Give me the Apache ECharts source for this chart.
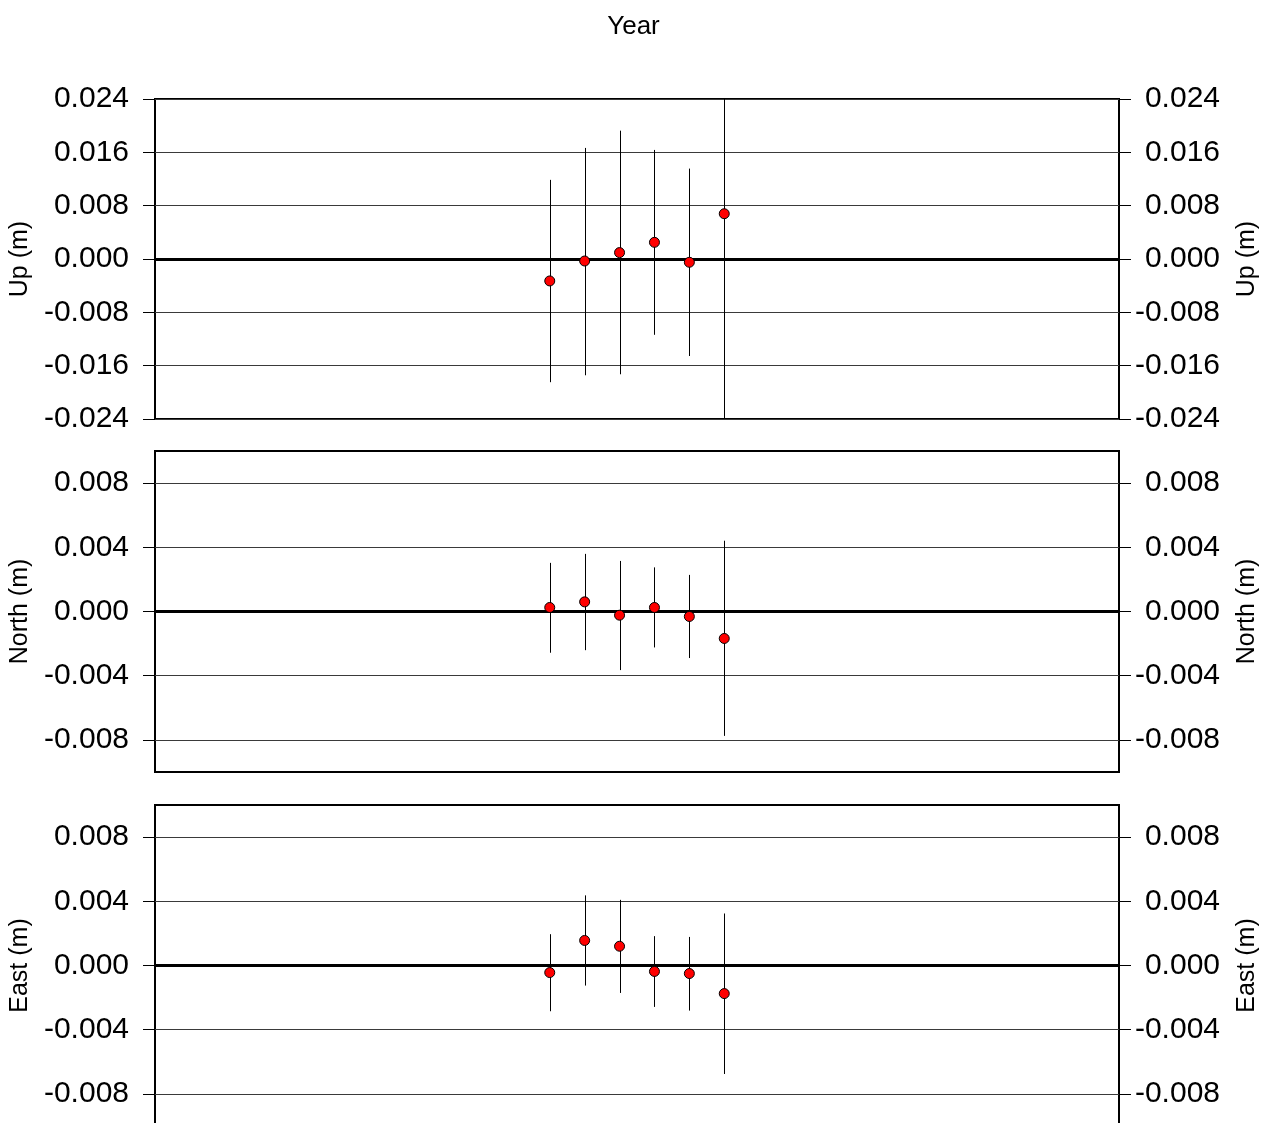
<!DOCTYPE html>
<html>
<head>
<meta charset="utf-8">
<script src="https://cdn.jsdelivr.net/npm/echarts@6/dist/echarts.min.js"></script>
<style>
html,body{margin:0;padding:0;background:#fff;}
#chart{width:1267px;height:1123px;}
</style>
</head>
<body>
<div id="chart"></div>
<script>
// ---- data ----
var epochs = [2011, 2012, 2013, 2014, 2015, 2016];
var xMin = 1999.69, xMax = 2027.31;

var upVal  = [-0.00329, -0.00030, 0.00096, 0.00250, -0.00049, 0.00679];
var upLow  = [-0.01848, -0.01744, -0.01729, -0.01137, -0.01455, -0.02420];
var upHigh = [0.01187, 0.01666, 0.01925, 0.01636, 0.01356, 0.03780];

var northVal  = [0.00025, 0.00060, -0.00023, 0.00025, -0.00031, -0.00168];
var northLow  = [-0.00257, -0.00241, -0.00365, -0.00224, -0.00290, -0.00775];
var northHigh = [0.00303, 0.00359, 0.00315, 0.00275, 0.00228, 0.00441];

var eastVal  = [-0.00044, 0.00156, 0.00120, -0.00037, -0.00050, -0.00175];
var eastLow  = [-0.00285, -0.00125, -0.00171, -0.00258, -0.00281, -0.00676];
var eastHigh = [0.00195, 0.00437, 0.00409, 0.00183, 0.00178, 0.00324];

var upTicks = [-0.024, -0.016, -0.008, 0, 0.008, 0.016, 0.024];
var neTicks = [-0.008, -0.004, 0, 0.004, 0.008];
var upRange = [-0.024, 0.024];
var neRange = [-0.010, 0.010];

var panels = [
  {name: 'Up (m)', val: upVal, low: upLow, high: upHigh, ticks: upTicks, range: upRange, top: 99},
  {name: 'North (m)', val: northVal, low: northLow, high: northHigh, ticks: neTicks, range: neRange, top: 451},
  {name: 'East (m)', val: eastVal, low: eastLow, high: eastHigh, ticks: neTicks, range: neRange, top: 805}
];

var FONT = 'Liberation Sans, Arial, sans-serif';
var grids = [], xAxes = [], yAxes = [], series = [];

panels.forEach(function (p, i) {
  grids.push({left: 155, right: 148, top: p.top, height: i === 0 ? 320 : 321, show: true,
    outerBoundsMode: 'none', containLabel: false,
    borderColor: '#000', borderWidth: 2, backgroundColor: 'transparent'});
  xAxes.push({type: 'value', gridIndex: i, min: xMin, max: xMax,
    axisLine: {show: false}, axisTick: {show: false}, axisLabel: {show: false}, splitLine: {show: false}});
  [0, 1].forEach(function (side) {
    yAxes.push({
      type: 'value', gridIndex: i, min: p.range[0], max: p.range[1],
      position: side === 0 ? 'left' : 'right',
      name: p.name, nameLocation: 'middle', nameGap: side === 0 ? 110 : 116,
      nameTextStyle: {fontFamily: FONT, fontSize: 25, color: '#000'},
      axisLine: {show: false},
      axisTick: {show: true, inside: false, length: 12, customValues: p.ticks,
        lineStyle: {color: '#000', width: 1}},
      axisLabel: {show: true, customValues: p.ticks, margin: side === 0 ? 26 : 101,
        align: 'right', fontFamily: FONT, fontSize: 30, color: '#000',
        formatter: function (v) { return v.toFixed(3); }},
      splitLine: {show: side === 0, lineStyle: {color: '#3a3a3a', width: 1}}
    });
  });
  var errData = epochs.map(function (e, k) { return [e, p.low[k], p.high[k]]; });
  series.push({
    type: 'custom', xAxisIndex: i, yAxisIndex: i * 2, clip: true, z: 3,
    data: errData, silent: true,
    renderItem: function (params, api) {
      var a = api.coord([api.value(0), api.value(2)]);
      var b = api.coord([api.value(0), api.value(1)]);
      var x = Math.round(a[0]) + 0.5;
      return {type: 'line', shape: {x1: x, y1: a[1], x2: x, y2: b[1]},
        style: {stroke: '#000', lineWidth: 1}};
    },
    markLine: {silent: true, symbol: 'none', label: {show: false},
      lineStyle: {color: '#000', width: 3, type: 'solid'}, data: [{yAxis: 0}], z: 2}
  });
  series.push({
    type: 'scatter', xAxisIndex: i, yAxisIndex: i * 2, z: 5, silent: true,
    symbol: 'circle', symbolSize: 10,
    itemStyle: {color: '#ff0000', borderColor: '#000', borderWidth: 1, opacity: 1},
    data: epochs.map(function (e, k) { return [e, p.val[k]]; })
  });
});

var chart = echarts.init(document.getElementById('chart'), null, {renderer: 'canvas'});
chart.setOption({
  animation: false,
  backgroundColor: '#fff',
  title: {text: 'Year', left: 'center', top: 9,
    textStyle: {fontFamily: FONT, fontSize: 26, fontWeight: 'normal', color: '#000'}},
  grid: grids, xAxis: xAxes, yAxis: yAxes, series: series
});
</script>
</body>
</html>
